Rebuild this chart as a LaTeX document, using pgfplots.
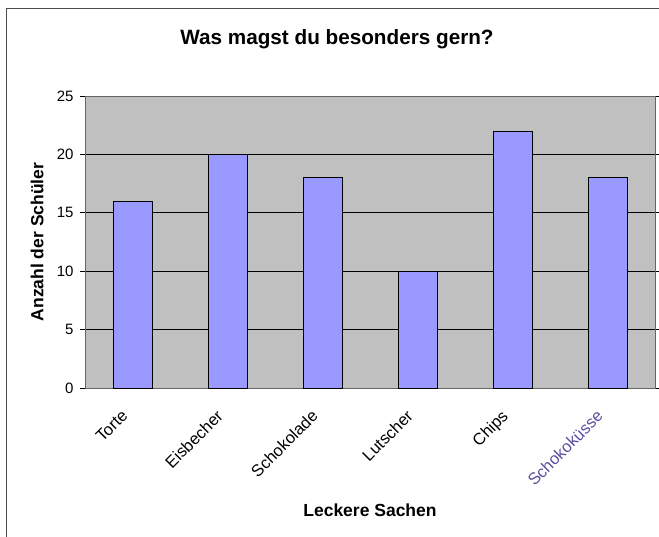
\documentclass[border=0pt]{standalone}
\usepackage{pgfplots}
\pgfplotsset{compat=1.18}
\usepackage{fontspec}
\setmainfont{Liberation Sans}
\definecolor{plotbg}{RGB}{192,192,192}
\definecolor{barfill}{RGB}{153,153,255}
\definecolor{kuss}{RGB}{90,80,160}
\begin{document}
\begin{tikzpicture}[x=1pt,y=1pt]
\useasboundingbox (0,0) rectangle (659,537);
\draw[line width=0.8pt,black!70] (6,0) -- (6,529) -- (659,529);
\node[font=\fontsize{20.7}{24}\selectfont\bfseries] at (337,498) {Was magst du besonders gern?};
\begin{axis}[
  at={(85pt,149pt)}, anchor=south west,
  scale only axis, width=570pt, height=292pt,
  xmin=-0.5, xmax=5.5, ymin=0, ymax=25,
  axis background/.style={fill=plotbg},
  axis line style={black!60, line width=0.8pt},
  ytick={0,5,...,25},
  ymajorgrids, grid style={black, line width=0.7pt},
  y tick label style={font=\fontsize{15}{18}\selectfont, xshift=-3pt},
  /pgf/number format/assume math mode=true,
  tick align=outside, major tick length=5pt,
  tick style={black, line width=0.7pt},
  xtick={0,...,5},
  x tick style={draw=none},
  xticklabels={Torte,Eisbecher,Schokolade,Lutscher,Chips,{\color{kuss}Schokoküsse}},
  x tick label style={font=\fontsize{16.5}{18}\selectfont, xshift=-12pt, yshift=-11pt, rotate=45, anchor=north east},
  extra x ticks={-0.5,0.5,1.5,2.5,3.5,4.5,5.5},
  extra x tick labels={},
  extra x tick style={tick style={draw=black, line width=0.7pt}, major tick length=6pt, grid=none},
  xlabel={\bfseries Leckere Sachen},
  xlabel style={font=\fontsize{17.5}{20}\selectfont, at={(axis description cs:0.5,-0.418)}, anchor=center},
  ylabel={\bfseries Anzahl der Schüler},
  ylabel style={font=\fontsize{17.5}{20}\selectfont, at={(axis description cs:-0.084,0.5)}, anchor=center},
  clip=false,
]
\addplot[ybar, bar width=0.41, fill=barfill, draw=black, line width=0.7pt] coordinates {
  (0,16) (1,20) (2,18) (3,10) (4,22) (5,18)
};
\end{axis}
\end{tikzpicture}
\end{document}
